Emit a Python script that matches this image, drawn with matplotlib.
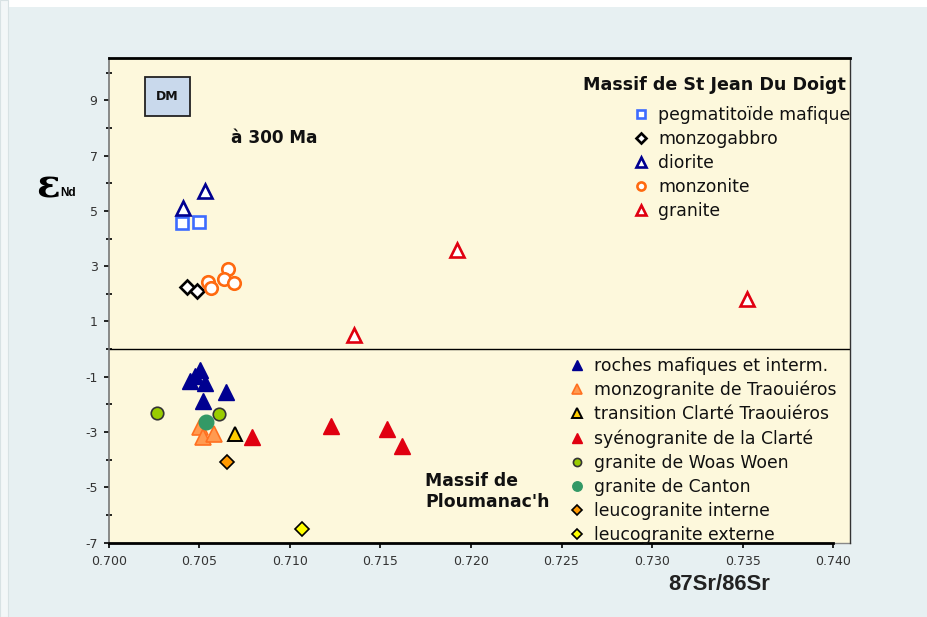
import matplotlib
matplotlib.use('Agg')
import matplotlib.pyplot as plt
import numpy as np
from matplotlib.patches import Rectangle
from matplotlib.ticker import FormatStrFormatter

plt.rcParams['axes.unicode_minus'] = False

# --- Massif de St Jean Du Doigt (open symbols) ---
pegma_x = [0.70403, 0.70498]
pegma_y = [4.55, 4.59]
monzogabbro_x = [0.70434, 0.70486]
monzogabbro_y = [2.24, 2.11]
diorite_x = [0.70408, 0.70533]
diorite_y = [5.09, 5.72]
monzonite_x = [0.70546, 0.70565, 0.70657, 0.70636, 0.70692]
monzonite_y = [2.44, 2.22, 2.91, 2.54, 2.40]
granite_x = [0.71921, 0.71356, 0.73522]
granite_y = [3.59, 0.51, 1.80]

# --- Massif de Ploumanac'h (filled symbols) ---
mafiques_x = [0.70504, 0.70476, 0.70449, 0.70532, 0.70648, 0.70519]
mafiques_y = [-0.75, -0.97, -1.14, -1.24, -1.54, -1.86]
traouieros_x = [0.70504, 0.70522, 0.70581]
traouieros_y = [-2.83, -3.17, -3.07]
transition_x = [0.70696]
transition_y = [-3.08]
clarte_x = [0.70791, 0.71227, 0.71538, 0.71621]
clarte_y = [-3.19, -2.77, -2.90, -3.49]
woas_x = [0.70268, 0.70609]
woas_y = [-2.32, -2.36]
canton_x = [0.70535]
canton_y = [-2.63]
leuco_int_x = [0.70655]
leuco_int_y = [-4.08]
leuco_ext_x = [0.71067]
leuco_ext_y = [-6.50]

xticks = np.arange(0.700, 0.7401, 0.005)
yticks = np.arange(-7, 10, 2)

W, H = 928, 617
fig = plt.figure(figsize=(W / 100, H / 100), dpi=100)
fig.patch.set_facecolor('#E7F0F2')
# white margin at top and left of the sheet
fig.patches.append(Rectangle((0, 1 - 7 / H), 1, 7 / H, transform=fig.transFigure,
                             facecolor='white', edgecolor='none'))
fig.patches.append(Rectangle((0, 0), 8 / W, 1, transform=fig.transFigure,
                             facecolor='#F3F7F8', edgecolor='#D8E2E4', lw=0.8))

ax = fig.add_axes([108.7 / W, 1 - 542.7 / H, (850.3 - 108.7) / W, (542.7 - 57.7) / H])
ax.set_facecolor('#FDF8DC')
ax.set_xlim(0.700, 0.74094)
ax.set_ylim(-7, 10.54)

ax.spines['top'].set_color('black')
ax.spines['top'].set_linewidth(2)
ax.spines['right'].set_color('#333333')
ax.spines['right'].set_linewidth(1)
ax.spines['left'].set_color('#777777')
ax.spines['left'].set_linewidth(1.2)
ax.spines['bottom'].set_color('black')
ax.spines['bottom'].set_linewidth(2)
ax.spines['bottom'].set_bounds(0.700, 0.740)
ax.axhline(-7, xmin=0.977, color='#888888', lw=1, clip_on=False)

ax.set_xticks(xticks)
ax.xaxis.set_major_formatter(FormatStrFormatter('%.3f'))
ax.set_yticks(yticks)
ax.set_yticks(np.arange(-6, 11, 2), minor=True)
ax.tick_params(axis='both', which='major', direction='out', length=3.5, width=1.2,
               labelsize=9, labelcolor='#333333', color='black')
ax.tick_params(axis='x', pad=5)
ax.tick_params(axis='y', pad=4.5)
ax.tick_params(axis='y', which='minor', direction='inout', length=5, width=1.2, color='black')

ax.axhline(0, color='black', lw=1, zorder=1)

ms_open = dict(linestyle='none', markerfacecolor='white', markeredgewidth=1.9)
h1 = ax.plot(pegma_x, pegma_y, marker='s', ms=9, markeredgecolor='#3D6BFF', label='pegmatitoïde mafique', **ms_open)[0]
h2 = ax.plot(monzogabbro_x, monzogabbro_y, marker='D', ms=7.5, markeredgecolor='black', label='monzogabbro', **ms_open)[0]
h3 = ax.plot(diorite_x, diorite_y, marker='^', ms=10, markeredgecolor='#000090', label='diorite', **ms_open)[0]
h4 = ax.plot(monzonite_x, monzonite_y, marker='o', ms=9, markeredgecolor='#FF6A10', label='monzonite', **ms_open)[0]
h5 = ax.plot(granite_x, granite_y, marker='^', ms=10, markeredgecolor='#E00010', label='granite', **ms_open)[0]

f1 = ax.plot(mafiques_x, mafiques_y, marker='^', ms=11, linestyle='none', color='#000090',
             label='roches mafiques et interm.')[0]
f2 = ax.plot(traouieros_x, traouieros_y, marker='^', ms=11, linestyle='none', markerfacecolor='#FF9A50',
             markeredgecolor='#FF7020', markeredgewidth=1.2, label='monzogranite de Traouiéros')[0]
f3 = ax.plot(transition_x, transition_y, marker='^', ms=10, linestyle='none', markerfacecolor='#FFCC00',
             markeredgecolor='black', markeredgewidth=1.4, label='transition Clarté Traouiéros')[0]
f4 = ax.plot(clarte_x, clarte_y, marker='^', ms=11, linestyle='none', color='#E00010',
             label='syénogranite de la Clarté')[0]
f5 = ax.plot(woas_x, woas_y, marker='o', ms=9, linestyle='none', markerfacecolor='#99CC00',
             markeredgecolor='#333333', markeredgewidth=1.2, label='granite de Woas Woen')[0]
f6 = ax.plot(canton_x, canton_y, marker='o', ms=10.5, linestyle='none', color='#339966',
             label='granite de Canton')[0]
f7 = ax.plot(leuco_int_x, leuco_int_y, marker='D', ms=7.5, linestyle='none', markerfacecolor='#FF9900',
             markeredgecolor='black', markeredgewidth=1.2, label='leucogranite interne')[0]
f8 = ax.plot(leuco_ext_x, leuco_ext_y, marker='D', ms=7.5, linestyle='none', markerfacecolor='#FFFF00',
             markeredgecolor='black', markeredgewidth=1.2, label='leucogranite externe')[0]

leg_kw = dict(frameon=False, fontsize=12.4, borderpad=0, handlelength=1.0, handletextpad=0.5,
              labelspacing=0.345, markerscale=0.65, borderaxespad=0, labelcolor='#111111')
leg1 = fig.legend(handles=[h1, h2, h3, h4, h5], loc='upper left',
                  bbox_to_anchor=(632.4 / W, 1 - 106 / H), **leg_kw)
leg2 = fig.legend(handles=[f1, f2, f3, f4, f5, f6, f7, f8], loc='upper left',
                  bbox_to_anchor=(568.4 / W, 1 - 357 / H), **leg_kw)

fig.text(583 / W, 1 - 85 / H, 'Massif de St Jean Du Doigt', fontsize=12.6, fontweight='bold',
         va='center', ha='left', color='#111111')
ax.text(0.71746, -5.15, "Massif de\nPloumanac'h", fontsize=12.4, fontweight='bold',
        va='center', ha='left', color='#111111', linespacing=1.2)
ax.text(0.70675, 7.64, 'à 300 Ma', fontsize=12.2, fontweight='bold', va='center', ha='left',
        color='#111111')

# DM reference box
ax.add_patch(Rectangle((0.70201, 8.43), 0.00249, 1.42, facecolor='#C9D9EC',
                       edgecolor='#222222', lw=1.3, zorder=3))
ax.text(0.703255, 9.14, 'DM', fontsize=9, fontweight='bold', ha='center', va='center',
        color='#111111', zorder=4)

# axis labels
fig.text(719 / W, 1 - 585 / H, '87Sr/86Sr', fontsize=15.8, fontweight='bold',
         family='Liberation Sans', ha='center', va='center', color='#222222')
fig.text(48 / W, 1 - 187 / H, 'ε', fontsize=28, fontweight='bold', family='DejaVu Serif',
         ha='center', va='center', color='black')
fig.text(60 / W, 1 - 193 / H, 'Nd', fontsize=8.5, fontweight='bold', family='Liberation Sans',
         ha='left', va='center', color='black')

fig.savefig('out.png', dpi=100, facecolor=fig.get_facecolor())
